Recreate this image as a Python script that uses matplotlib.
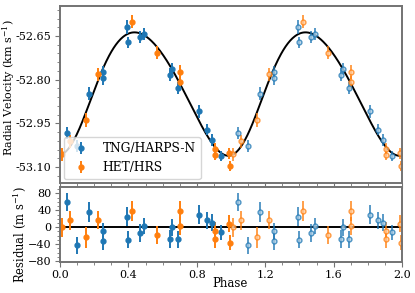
import numpy as np
import matplotlib
matplotlib.use("Agg")
import matplotlib.pyplot as plt
from matplotlib.ticker import AutoMinorLocator, FormatStrFormatter, MultipleLocator

# orbital model (Keplerian)
ecc = 0.10
omega = 0.873 + np.pi
t_peri = 0.10
K = 0.2119
gamma = -52.8494

# TNG/HARPS-N: phase, residual (m/s), error (m/s)
blue_phase = [0.043, 0.10, 0.17, 0.25, 0.25, 0.39, 0.40, 0.465, 0.49, 0.645, 0.655, 0.69, 0.81, 0.857, 0.89, 0.94]
blue_resid = [59, -42, 36, -10, -32, 25, -30, -14, 3, -28, 0, -28, 30, 17, 11, -12]
blue_err = [21, 20, 23, 20, 22, 23, 20, 21, 20, 22, 20, 20, 22, 20, 20, 18]

# HET/HRS
orange_phase = [0.014, 0.06, 0.15, 0.225, 0.42, 0.57, 0.70, 0.70, 0.904, 0.904, 0.986, 0.994]
orange_resid = [0, 16, -24, 17, 38, -18, 38, 3, -10, -28, 8, -36]
orange_err = [23, 22, 24, 22, 23, 22, 24, 22, 22, 20, 20, 18]


def model(ph):
    ph = np.asarray(ph, dtype=float)
    M = 2 * np.pi * (ph - t_peri)
    E = M.copy()
    for _ in range(40):
        E = E - (E - ecc * np.sin(E) - M) / (1 - ecc * np.cos(E))
    nu = 2 * np.arctan2(np.sqrt(1 + ecc) * np.sin(E / 2), np.sqrt(1 - ecc) * np.cos(E / 2))
    return gamma + K * np.cos(nu + omega)


plt.rcParams["font.family"] = "DejaVu Serif"
plt.rcParams["mathtext.fontset"] = "dejavuserif"
plt.rcParams["font.size"] = 8

fig = plt.figure(figsize=(4.15, 2.93), dpi=100)
ax = fig.add_axes([0.1446, 0.3754, 0.8241, 0.6041])
axr = fig.add_axes([0.1446, 0.1058, 0.8241, 0.256], sharex=ax)

series = [
    ("TNG/HARPS-N", "#1f77b4", "#a9cbe3", blue_phase, blue_resid, blue_err),
    ("HET/HRS", "#ff7f0e", "#ffcc9e", orange_phase, orange_resid, orange_err),
]

for label, col, light, ph, res, err in series:
    ph = np.array(ph)
    res = np.array(res, dtype=float)
    err = np.array(err, dtype=float)
    rv = model(ph) + res / 1000.0
    # phase+1 copies, drawn faded with open-looking markers
    ax.errorbar(ph + 1, rv, yerr=err / 1000.0, fmt="o", ms=3.5, color=col,
                mfc=light, elinewidth=1.4, capsize=0, alpha=0.75)
    axr.errorbar(ph + 1, res, yerr=err, fmt="o", ms=3.5, color=col,
                 mfc=light, elinewidth=1.4, capsize=0, alpha=0.75)
    ax.errorbar(ph, rv, yerr=err / 1000.0, fmt="o", ms=3.5, color=col,
                elinewidth=1.4, capsize=0, label=label)
    axr.errorbar(ph, res, yerr=err, fmt="o", ms=3.5, color=col,
                 elinewidth=1.4, capsize=0)

xx = np.linspace(0, 2, 600)
ax.plot(xx, model(xx % 1.0), color="black", lw=1.4, zorder=1)
axr.axhline(0, color="black", lw=1.4, zorder=1)

ax.set_xlim(0, 2)
ax.set_ylim(-53.155, -52.547)
axr.set_ylim(-82, 95)

ax.yaxis.set_major_locator(MultipleLocator(0.15))
ax.yaxis.set_major_formatter(FormatStrFormatter("%.2f"))
ax.yaxis.set_minor_locator(AutoMinorLocator(5))
ax.xaxis.set_major_locator(MultipleLocator(0.4))
ax.xaxis.set_minor_locator(AutoMinorLocator(4))
axr.yaxis.set_major_locator(MultipleLocator(40))
axr.yaxis.set_minor_locator(AutoMinorLocator(4))
axr.xaxis.set_major_formatter(FormatStrFormatter("%.1f"))
plt.setp(ax.get_xticklabels(), visible=False)

for a in (ax, axr):
    for sp in a.spines.values():
        sp.set_color("0.45")
        sp.set_linewidth(1.4)
    a.tick_params(which="both", direction="out", color="0.45")
    a.tick_params(which="major", length=3.5, labelsize=8, pad=2.5)
    a.tick_params(which="minor", length=2)

ax.set_ylabel("Radial Velocity (km s$^{-1}$)", fontsize=8.0)
ax.yaxis.set_label_coords(-0.127, 0.54)
axr.set_ylabel("Residual (m s$^{-1}$)", fontsize=8.3)
axr.yaxis.set_label_coords(-0.094, 0.36)
axr.set_xlabel("Phase", fontsize=8.5)
axr.xaxis.set_label_coords(0.497, -0.205)

ax.legend(loc="lower left", fontsize=8.8, handletextpad=0.8, borderaxespad=0.3)

fig.savefig("out.png", dpi=100)
